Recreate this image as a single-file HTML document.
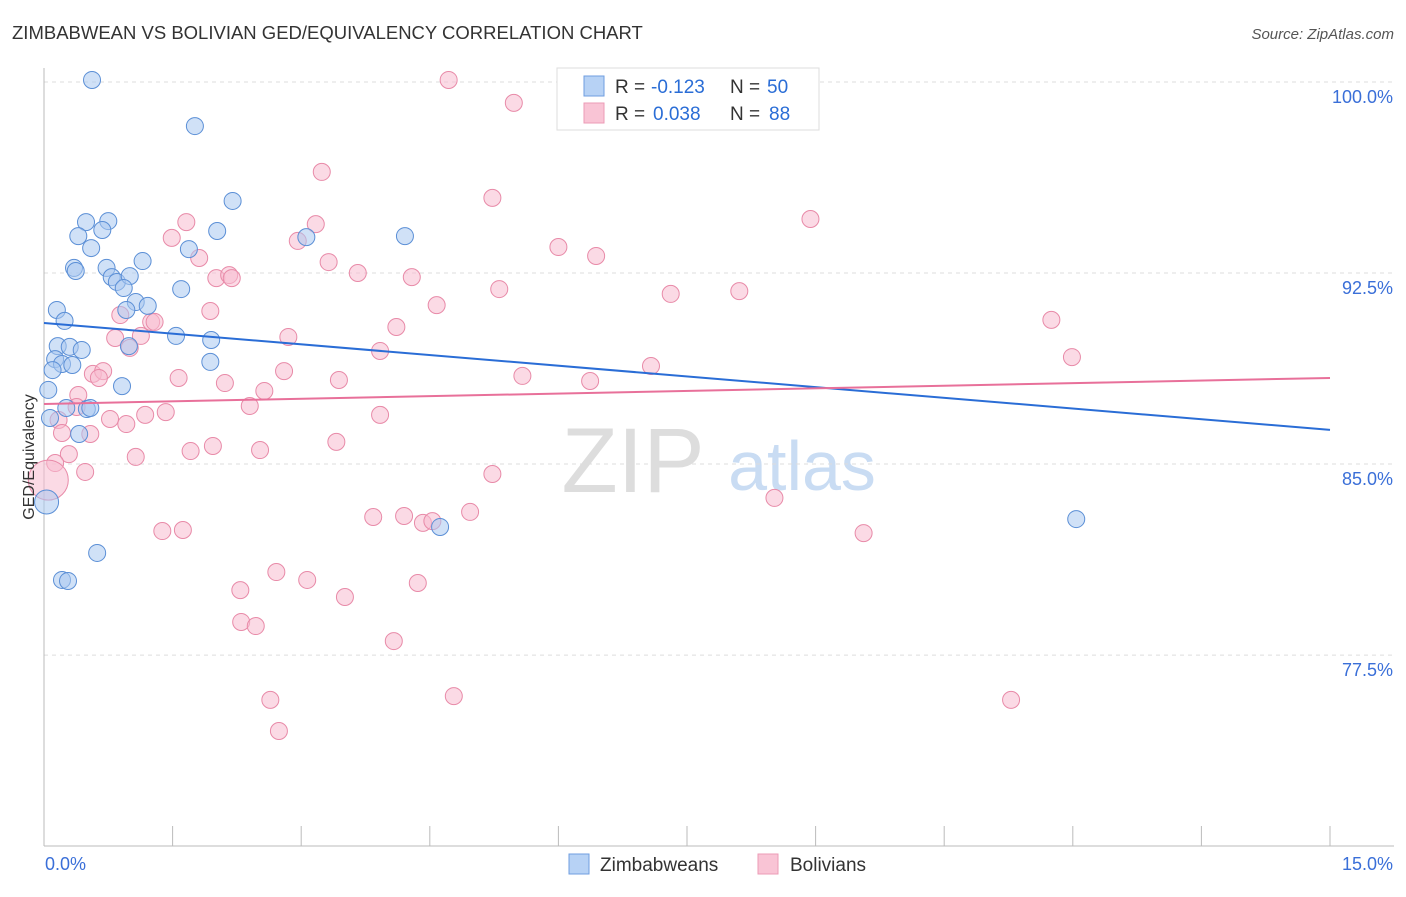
<!DOCTYPE html>
<html><head><meta charset="utf-8"><style>
body{margin:0;background:#fff;font-family:"Liberation Sans",sans-serif;}
svg text{font-family:"Liberation Sans",sans-serif;}
</style></head><body>
<svg id="chart" width="1406" height="892" viewBox="0 0 1406 892" xmlns="http://www.w3.org/2000/svg">
<text x="12" y="39" font-size="18.5" fill="#333">ZIMBABWEAN VS BOLIVIAN GED/EQUIVALENCY CORRELATION CHART</text>
<text x="1394" y="39" font-size="15" fill="#555" text-anchor="end" font-style="italic">Source: ZipAtlas.com</text>
<g>
<text x="633" y="492" font-size="92" fill="#ddd" text-anchor="middle" font-family="Liberation Serif,serif">ZIP</text>
<text x="802" y="490" font-size="70" fill="#c9dcf3" text-anchor="middle">atlas</text>
</g>
<g id="grid"></g>
<g id="axes"></g>
<g id="points"></g>
<g id="trends"></g>
<text transform="translate(34,457) rotate(-90)" font-size="16" fill="#333" text-anchor="middle">GED/Equivalency</text>
<text x="45" y="870" font-size="18" fill="#3a6fd8">0.0%</text>
<text x="1393" y="870" font-size="18" fill="#3a6fd8" text-anchor="end">15.0%</text>
<g>
<rect x="557" y="68" width="262" height="62" fill="#fff" stroke="#ddd"/>
<rect x="584" y="76" width="20" height="20" fill="#b7d2f5" stroke="#6f9ee0"/>
<rect x="584" y="103" width="20" height="20" fill="#f9c4d5" stroke="#ec9bb6"/>
<text x="615" y="93" font-size="19" fill="#333">R =</text>
<text x="651" y="93" font-size="19" fill="#2a6dd6">-0.123</text>
<text x="730" y="93" font-size="19" fill="#333">N =</text>
<text x="767" y="93" font-size="19" fill="#2a6dd6">50</text>
<text x="615" y="120" font-size="19" fill="#333">R =</text>
<text x="653" y="120" font-size="19" fill="#2a6dd6">0.038</text>
<text x="730" y="120" font-size="19" fill="#333">N =</text>
<text x="769" y="120" font-size="19" fill="#2a6dd6">88</text>
</g>
<g>
<rect x="569" y="854" width="20" height="20" fill="#b7d2f5" stroke="#6f9ee0"/>
<text x="600" y="871" font-size="19" fill="#333">Zimbabweans</text>
<rect x="758" y="854" width="20" height="20" fill="#f9c4d5" stroke="#ec9bb6"/>
<text x="790" y="871" font-size="19" fill="#333">Bolivians</text>
</g>
</svg>
<script>
const yTicks=[100,92.5,85,77.5];
const yTickLabels=["100.0%","92.5%","85.0%","77.5%"];
const xTicks=[0,1.5,3,4.5,6,7.5,9,10.5,12,13.5,15];
const zimX=[0.56,1.76,2.20,0.49,0.75,0.40,0.68,0.55,2.02,3.06,4.21,1.69,1.15,0.35,0.37,0.73,0.79,0.85,1.00,0.93,1.60,0.15,1.07,1.21,0.96,0.24,1.54,1.95,0.16,0.30,0.44,0.99,0.13,0.21,0.33,0.10,1.94,0.05,0.91,0.26,0.50,0.54,0.07,0.41,0.03,0.62,0.21,0.28,4.62,12.04];
const zimY=[100.08,98.27,95.33,94.50,94.54,93.95,94.19,93.48,94.15,93.91,93.95,93.44,92.97,92.70,92.58,92.70,92.34,92.15,92.38,91.91,91.87,91.05,91.36,91.21,91.05,90.62,90.03,89.87,89.63,89.60,89.48,89.63,89.12,88.93,88.89,88.69,89.01,87.91,88.06,87.20,87.16,87.20,86.81,86.18,83.51,81.51,80.45,80.41,82.53,82.84];
const bolX=[4.72,5.48,3.24,5.23,8.94,1.66,3.17,1.49,2.96,6.00,6.44,1.81,3.32,3.66,4.29,2.01,2.16,2.19,5.31,7.31,8.11,4.58,1.94,0.89,1.25,1.29,4.11,11.75,2.85,1.13,0.83,1.00,3.92,11.99,7.08,2.80,0.57,0.69,0.64,1.57,3.44,5.58,6.37,2.11,2.57,0.40,0.38,2.40,1.42,1.18,0.77,0.96,3.92,0.17,0.21,0.54,3.41,1.97,1.71,2.52,1.07,0.29,0.13,0.48,5.23,0.05,8.52,4.97,3.84,4.20,4.42,4.53,1.38,1.62,9.56,2.71,3.07,4.36,2.29,3.51,2.30,2.47,4.08,2.64,4.78,11.28,2.74];
const bolY=[100.08,99.18,96.47,95.45,94.62,94.50,94.42,93.88,93.76,93.52,93.17,93.09,92.93,92.50,92.34,92.30,92.42,92.30,91.87,91.68,91.79,91.24,91.01,90.85,90.58,90.58,90.38,90.66,89.99,90.03,89.95,89.56,89.44,89.20,88.85,88.65,88.54,88.65,88.38,88.38,88.30,88.46,88.26,88.18,87.87,87.71,87.24,87.28,87.04,86.93,86.77,86.57,86.93,86.73,86.22,86.18,85.87,85.71,85.51,85.55,85.28,85.39,85.04,84.69,84.61,84.37,83.67,83.12,82.92,82.96,82.69,82.76,82.37,82.41,82.29,80.76,80.45,80.33,80.05,79.78,78.80,78.64,78.05,75.74,75.89,75.74,74.52];
const zimBig=[83.51];
const bolBig=[84.37];
const zimTrend=[90.54,86.34];
const bolTrend=[87.36,88.38];
const NS="http://www.w3.org/2000/svg";
const X0=44,X1=1330,Y100=82,PXP=25.47;
function sx(v){return X0+(v/15)*(X1-X0);}
function sy(v){return Y100+(100-v)*PXP;}
function mk(tag,attrs,parent){const e=document.createElementNS(NS,tag);for(const k in attrs)e.setAttribute(k,attrs[k]);parent.appendChild(e);return e;}
const grid=document.getElementById('grid'),axes=document.getElementById('axes'),pts=document.getElementById('points'),tr=document.getElementById('trends');
yTicks.forEach((t,i)=>{
 const l=mk('line',{x1:44,x2:1394,y1:sy(t),y2:sy(t),stroke:'#ddd','stroke-dasharray':'4,4'},grid);
 
 
 const tx=mk('text',{x:1393,y:sy(t)+21,'font-size':18,fill:'#3a6fd8','text-anchor':'end'},grid);
 tx.textContent=yTickLabels[i];
 
 
});
const ya=mk('line',{x1:44,x2:44,y1:68,y2:846,stroke:'#bbb'},axes);


const xa=mk('line',{x1:44,x2:1394,y1:846,y2:846,stroke:'#bbb'},axes);


xTicks.forEach(t=>{
 const l=mk('line',{x1:sx(t),x2:sx(t),y1:826,y2:846,stroke:'#bbb'},axes);
 
 
});
function dots(xs,ys,big,fill,stroke,name){
 xs.forEach((x,i)=>{
  const r=big.includes(ys[i])&&x<0.1?(name==='bolivian-point'?20:12):8.5;
  const c=mk('circle',{cx:sx(x),cy:sy(ys[i]),r:r,fill:fill,'fill-opacity':0.55,stroke:stroke,'stroke-width':1},pts);
  
  
 });
}
dots(bolX,bolY,bolBig,'#f7bcd0','#e88aa8','bolivian-point');
dots(zimX,zimY,zimBig,'#a9c9f1','#5b8fd6','zimbabwean-point');
const t1=mk('line',{x1:sx(0),x2:sx(15),y1:sy(zimTrend[0]),y2:sy(zimTrend[1]),stroke:'#2a6dd6','stroke-width':2},tr);


const t2=mk('line',{x1:sx(0),x2:sx(15),y1:sy(bolTrend[0]),y2:sy(bolTrend[1]),stroke:'#e8709a','stroke-width':2},tr);


</script>
</body></html>
